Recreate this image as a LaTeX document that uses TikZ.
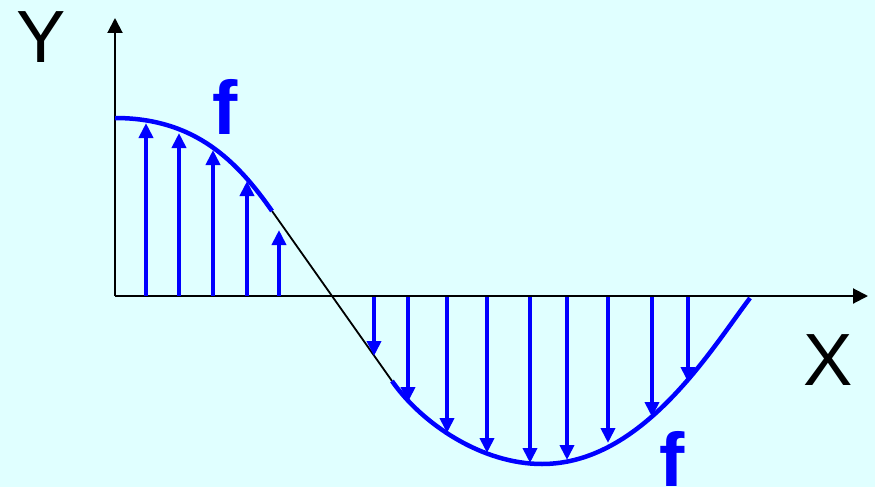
\documentclass[tikz,border=0pt]{standalone}
\usepackage{fontspec}
\setmainfont{Liberation Sans}
\usetikzlibrary{arrows.meta}
\definecolor{bgc}{RGB}{224,255,255}
\definecolor{fblue}{RGB}{0,0,255}
\begin{document}
\begin{tikzpicture}[x=1pt,y=-1pt,
  axis/.style={line width=2pt,black,-{Triangle[length=15pt,width=15pt]}},
  force/.style={line width=4.2pt,fblue,-{Triangle[length=15pt,width=14pt]}},
  curveb/.style={line width=4.5pt,fblue},
  curvek/.style={line width=1.8pt,black},
  lbl/.style={inner sep=0pt,font=\fontsize{74}{74}\selectfont},
  flbl/.style={inner sep=0pt,text=fblue,font=\fontsize{76}{76}\selectfont\bfseries}]
\fill[bgc] (0,0) rectangle (875,487);
\useasboundingbox (0,0) rectangle (875,487);
% axes
\coordinate (O) at (115,296);
\coordinate (Ytop) at (115,18);
\coordinate (Xend) at (868,296);
\draw[axis] (O) -- (Ytop);
\draw[axis] (O) -- (Xend);
% curve
\coordinate (c0) at (115,118);
\coordinate (c1) at (272,211);
\coordinate (c2) at (392,381);
\coordinate (c3) at (542,464);
\coordinate (c4) at (750,298);
\draw[curvek] (c1) -- (c2);
\draw[curveb] (c0) .. controls (195,118) and (237,161) .. (c1);
\draw[curveb] (c2) .. controls (422,424) and (482,464) .. (c3)
  .. controls (642,464) and (710,351) .. (c4);
% upward arrows
\foreach \x/\t [count=\i] in {146/123,179/133,213/150,247/181,279/230}{
  \coordinate (ua\i) at (\x,296);
  \coordinate (ut\i) at (\x,\t);
  \draw[force] (ua\i) -- (ut\i);
}
% downward arrows
\foreach \x/\t [count=\i] in {374/356,408/402,447/433,487/453,530/463,567/460,608/443,652/417,688/382}{
  \coordinate (da\i) at (\x,297);
  \coordinate (dt\i) at (\x,\t);
  \draw[force] (da\i) -- (dt\i);
}
% labels
\node[lbl] (Y) at (41,37) {Y};
\node[lbl] (X) at (828,360) {X};
\node[flbl] (f1) at (225,107) {f};
\node[flbl] (f2) at (672,459) {f};
\end{tikzpicture}
\end{document}
